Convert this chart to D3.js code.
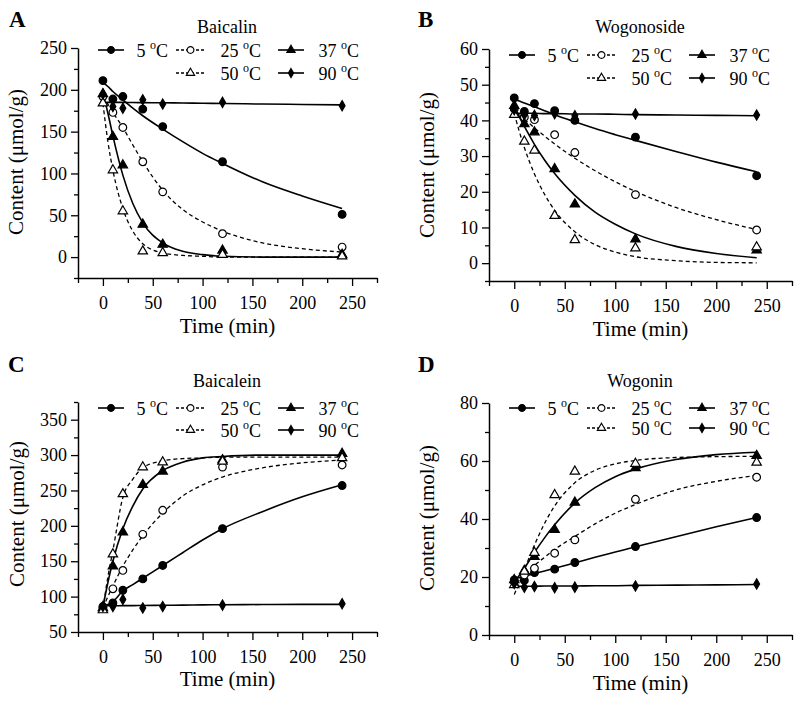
<!DOCTYPE html>
<html><head><meta charset="utf-8">
<script src="https://cdn.jsdelivr.net/npm/d3@7"></script>
<style>
body{margin:0;background:#fff}
svg{display:block}
text{font-family:"Liberation Serif","Times New Roman",serif;fill:#000;font-weight:400}
</style>
</head><body>
<svg id="c" width="800" height="704"></svg>
<script>
// ---------- data ----------
const times = [0, 10, 20, 40, 60, 120, 240];
const fitTimes = [0, 5, 10, 20, 30, 40, 60, 80, 100, 120, 160, 200, 240];
const temps = ["5", "25", "37", "50", "90"];
const xTicks = [0, 50, 100, 150, 200, 250];

// A: Baicalin
const baicalin5  = [211, 189, 192, 177, 156, 114, 51];
const baicalin25 = [192, 173, 155, 114, 78, 28, 12];
const baicalin37 = [195, 144, 110, 39, 15, 8, 3];
const baicalin50 = [184, 104, 55, 7, 5, 3, 1];
const baicalin90 = [195, 180, 178, 188, 183, 185, 181];
const baicalinFit5  = [209, 204, 198, 188, 178, 169, 153, 138, 124, 112, 90, 73, 58];
const baicalinFit25 = [192, 183, 173, 155, 134, 114, 80, 57, 42, 31, 17, 10, 6];
const baicalinFit37 = [196, 172, 145, 98, 64, 41, 17, 7, 3, 1, 0, 0, 0];
const baicalinFit50 = [184, 138, 104, 58, 31, 16, 5, 2, 1, 0, 0, 0, 0];
const baicalinFit90 = [185, 185, 185, 185, 184.8, 184.7, 184.5, 184.2, 183.9, 183.6, 183, 182.5, 182];
const baicalinYTicks = [0, 50, 100, 150, 200, 250];

// B: Wogonoside
const wogonoside5  = [46.3, 42.5, 44.7, 42.7, 40.0, 35.3, 24.5];
const wogonoside25 = [43.2, 40.9, 40.2, 36.0, 31.0, 19.2, 9.3];
const wogonoside37 = [44.1, 39.0, 36.7, 26.4, 16.5, 6.7, 3.6];
const wogonoside50 = [41.6, 34.1, 31.6, 13.3, 6.5, 4.2, 4.5];
const wogonoside90 = [43.0, 41.6, 41.4, 41.9, 41.3, 41.8, 41.5];
const wogonosideFit5  = [46.0, 45.4, 44.9, 43.8, 42.7, 41.6, 39.6, 37.7, 36.0, 34.4, 31.3, 28.3, 25.6];
const wogonosideFit25 = [43.0, 41.7, 40.4, 37.9, 35.6, 33.4, 29.4, 25.9, 22.8, 20.1, 15.6, 12.2, 9.4];
const wogonosideFit37 = [44.0, 41.0, 38.3, 33.3, 28.9, 25.1, 19.0, 14.3, 10.9, 8.2, 4.7, 2.7, 1.5];
const wogonosideFit50 = [42.0, 36.9, 32.4, 25.0, 19.3, 14.8, 8.8, 5.2, 3.1, 1.8, 0.7, 0.2, 0.1];
const wogonosideFit90 = [42.0, 42.0, 42.0, 42.0, 41.9, 41.9, 41.8, 41.8, 41.7, 41.6, 41.5, 41.4, 41.3];
const wogonosideYTicks = [0, 10, 20, 30, 40, 50, 60];

// C: Baicalein
const baicalein5  = [86, 91, 109, 125, 144, 196, 257];
const baicalein25 = [84, 111, 137, 188, 222, 283, 286];
const baicalein37 = [84, 143, 191, 258, 277, 293, 302];
const baicalein50 = [81, 160, 245, 283, 290, 291, 296];
const baicalein90 = [86, 86, 96, 84, 86, 88, 90];
const baicaleinFit5  = [87, 89, 93, 108, 117, 126, 144, 162, 180, 196, 220, 241, 258];
const baicaleinFit25 = [84, 100, 115, 143, 166, 186, 218, 242, 258, 269, 282, 289, 293];
const baicaleinFit37 = [85, 120, 150, 196, 228, 252, 278, 290, 296, 298, 300, 300, 300];
const baicaleinFit50 = [82, 128, 165, 240, 266, 282, 292, 295, 296, 297, 297, 297, 297];
const baicaleinFit90 = [87, 87, 87, 87.2, 87.3, 87.5, 87.8, 88, 88.3, 88.5, 88.8, 89, 89];
const baicaleinYTicks = [50, 100, 150, 200, 250, 300, 350];

// D: Wogonin
const wogonin5  = [19.0, 18.8, 21.5, 22.7, 25.0, 30.5, 40.5];
const wogonin25 = [18.4, 20.7, 23.0, 28.2, 32.8, 46.8, 54.4];
const wogonin37 = [19.0, 22.2, 27.0, 36.3, 45.7, 57.6, 61.8];
const wogonin50 = [17.3, 21.9, 28.4, 48.3, 56.4, 59.1, 59.5];
const wogonin90 = [17.8, 16.5, 16.7, 16.3, 16.5, 16.9, 17.6];
const wogoninFit5  = [19.5, 19.8, 20.3, 21.2, 22.1, 23.0, 24.9, 26.8, 28.6, 30.4, 33.9, 37.3, 40.5];
const wogoninFit25 = [18.0, 19.5, 21.0, 24.0, 26.8, 29.5, 34.0, 38.3, 42.0, 45.0, 50.0, 53.0, 55.0];
const wogoninFit37 = [18.5, 20.5, 23.0, 28.5, 33.5, 38.0, 45.5, 50.8, 54.6, 57.2, 60.5, 62.2, 63.0];
const wogoninFit50 = [14.0, 18.0, 22.5, 31.0, 38.5, 44.5, 52.5, 56.8, 59.0, 60.2, 61.2, 61.5, 61.6];
const wogoninFit90 = [16.8, 16.8, 16.8, 16.8, 16.9, 16.9, 16.9, 17.0, 17.0, 17.1, 17.2, 17.3, 17.4];
const wogoninYTicks = [0, 20, 40, 60, 80];

// ---------- layout ----------
const panels = [
  {letter:"A", title:"Baicalin", obs:[baicalin5,baicalin25,baicalin37,baicalin50,baicalin90],
   fit:[baicalinFit5,baicalinFit25,baicalinFit37,baicalinFit50,baicalinFit90],
   yDom:[-25,250], yTicks:baicalinYTicks, yMinorStep:25,
   x0:78, x1:377, yTop:48, yBot:278, letterXY:[9,27], titleXY:[227,33], legY:[50,73],
   xTitleY:333, yTitleXY:[23,162]},
  {letter:"B", title:"Wogonoside", obs:[wogonoside5,wogonoside25,wogonoside37,wogonoside50,wogonoside90],
   fit:[wogonosideFit5,wogonosideFit25,wogonosideFit37,wogonosideFit50,wogonosideFit90],
   yDom:[-5,60], yTicks:wogonosideYTicks, yMinorStep:5,
   x0:489, x1:792, yTop:49, yBot:281, letterXY:[418,27], titleXY:[640,33], legY:[55,78],
   xTitleY:336, yTitleXY:[434,165]},
  {letter:"C", title:"Baicalein", obs:[baicalein5,baicalein25,baicalein37,baicalein50,baicalein90],
   fit:[baicaleinFit5,baicaleinFit25,baicaleinFit37,baicaleinFit50,baicaleinFit90],
   yDom:[50,375], yTicks:baicaleinYTicks, yMinorStep:25,
   x0:78, x1:377, yTop:402, yBot:632, letterXY:[8,372], titleXY:[227,387], legY:[408,430],
   xTitleY:686, yTitleXY:[24,514]},
  {letter:"D", title:"Wogonin", obs:[wogonin5,wogonin25,wogonin37,wogonin50,wogonin90],
   fit:[wogoninFit5,wogoninFit25,wogoninFit37,wogoninFit50,wogoninFit90],
   yDom:[0,80], yTicks:wogoninYTicks, yMinorStep:10,
   x0:489, x1:792, yTop:403, yBot:635, letterXY:[418,372], titleXY:[640,387], legY:[408,428],
   xTitleY:690, yTitleXY:[434,518]}
];

const styles = [
  {sym:d3.symbolCircle,  size:46, fill:"#000", dash:null},
  {sym:d3.symbolCircle,  size:46, fill:"#fff", dash:"4,3"},
  {sym:d3.symbolTriangle,size:38, fill:"#000", dash:null},
  {sym:d3.symbolTriangle,size:38, fill:"#fff", dash:"4,3"},
  {sym:d3.symbolDiamond, size:30, fill:"#000", dash:null}
];
// legend slots: [row, col]
const legSlots = [[0,0],[0,1],[0,2],[1,1],[1,2]];
const legCols = [{l0:20,l1:46,te:90},{l0:98,l1:127,te:183},{l0:200,l1:226,te:281}];

const svg = d3.select("#c");

function degText(sel, num){
  sel.append("tspan").text(num + " ");
  sel.append("tspan").attr("font-size", 12).attr("dy", -8).text("o");
  sel.append("tspan").attr("dy", 8).text("C");
}

panels.forEach(p => {
  const g = svg.append("g");
  const x = d3.scaleLinear().domain([-25, 275]).range([p.x0, p.x1]);
  const y = d3.scaleLinear().domain(p.yDom).range([p.yBot, p.yTop]);

  // axes
  const xMinor = d3.range(-25, 276, 50);
  const yMinor = d3.range(p.yDom[0], p.yDom[1] + 0.001, p.yMinorStep).filter(v => !p.yTicks.includes(v));

  g.append("g").attr("transform", `translate(0,${p.yBot})`)
    .call(d3.axisBottom(x).tickValues(xTicks).tickSize(8).tickPadding(10).tickSizeOuter(0).tickFormat(d3.format("d")));
  g.append("g").attr("transform", `translate(0,${p.yBot})`)
    .call(d3.axisBottom(x).tickValues(xMinor).tickSize(5).tickSizeOuter(0).tickFormat(""))
    .select(".domain").remove();
  g.append("g").attr("transform", `translate(${p.x0},0)`)
    .call(d3.axisLeft(y).tickValues(p.yTicks).tickSize(7).tickPadding(4).tickSizeOuter(0).tickFormat(d3.format("d")));
  g.append("g").attr("transform", `translate(${p.x0},0)`)
    .call(d3.axisLeft(y).tickValues(yMinor).tickSize(4).tickSizeOuter(0).tickFormat(""))
    .select(".domain").remove();
  g.selectAll(".domain").attr("stroke", "#000").attr("stroke-width", 1.5);
  g.selectAll(".tick line").attr("stroke", "#000").attr("stroke-width", 1.3);
  g.selectAll(".tick text").attr("font-size", 18).attr("font-family", '"Liberation Serif",serif')
    .attr("font-weight", 400).attr("fill","#000");

  // fitted curves
  const line = d3.line().x((d, i) => x(fitTimes[i])).y(d => y(d)).curve(d3.curveMonotoneX);
  p.fit.forEach((arr, si) => {
    g.append("path").attr("d", line(arr)).attr("fill", "none").attr("stroke", "#000")
      .attr("stroke-width", styles[si].dash ? 1.3 : 1.6)
      .attr("stroke-dasharray", styles[si].dash);
  });

  // observed points
  p.obs.forEach((arr, si) => {
    const st = styles[si];
    g.append("g").selectAll("path").data(arr).join("path")
      .attr("d", d3.symbol(st.sym, st.size)())
      .attr("transform", (d, i) => `translate(${x(times[i])},${y(d)})`)
      .attr("fill", st.fill).attr("stroke", "#000").attr("stroke-width", 1.2);
  });

  // legend
  temps.forEach((t, si) => {
    const [r, c] = legSlots[si];
    const col = legCols[c];
    const ly = p.legY[r];
    const st = styles[si];
    g.append("line").attr("x1", p.x0 + col.l0).attr("x2", p.x0 + col.l1).attr("y1", ly).attr("y2", ly)
      .attr("stroke", "#000").attr("stroke-width", st.dash ? 1.3 : 1.6).attr("stroke-dasharray", st.dash ? "3,2" : null);
    g.append("path").attr("d", d3.symbol(st.sym, st.size * 0.8)())
      .attr("transform", `translate(${p.x0 + (col.l0 + col.l1) / 2},${ly})`)
      .attr("fill", st.fill).attr("stroke", "#000").attr("stroke-width", 1.1);
    g.append("text").attr("x", p.x0 + col.te).attr("y", ly + 6.5).attr("text-anchor", "end")
      .attr("font-size", 18).call(degText, t);
  });

  // titles
  g.append("text").attr("x", p.letterXY[0]).attr("y", p.letterXY[1]).attr("font-size", 23)
    .style("font-weight", "700").text(p.letter);
  g.append("text").attr("x", p.titleXY[0]).attr("y", p.titleXY[1]).attr("font-size", 18)
    .attr("text-anchor", "middle").text(p.title);
  g.append("text").attr("x", (x(0) + x(250)) / 2).attr("y", p.xTitleY).attr("font-size", 21)
    .attr("text-anchor", "middle").text("Time (min)");
  g.append("text").attr("transform", `translate(${p.yTitleXY[0]},${p.yTitleXY[1]}) rotate(-90)`)
    .attr("font-size", 21).attr("text-anchor", "middle").text("Content (μmol/g)");
});
</script>
</body></html>
